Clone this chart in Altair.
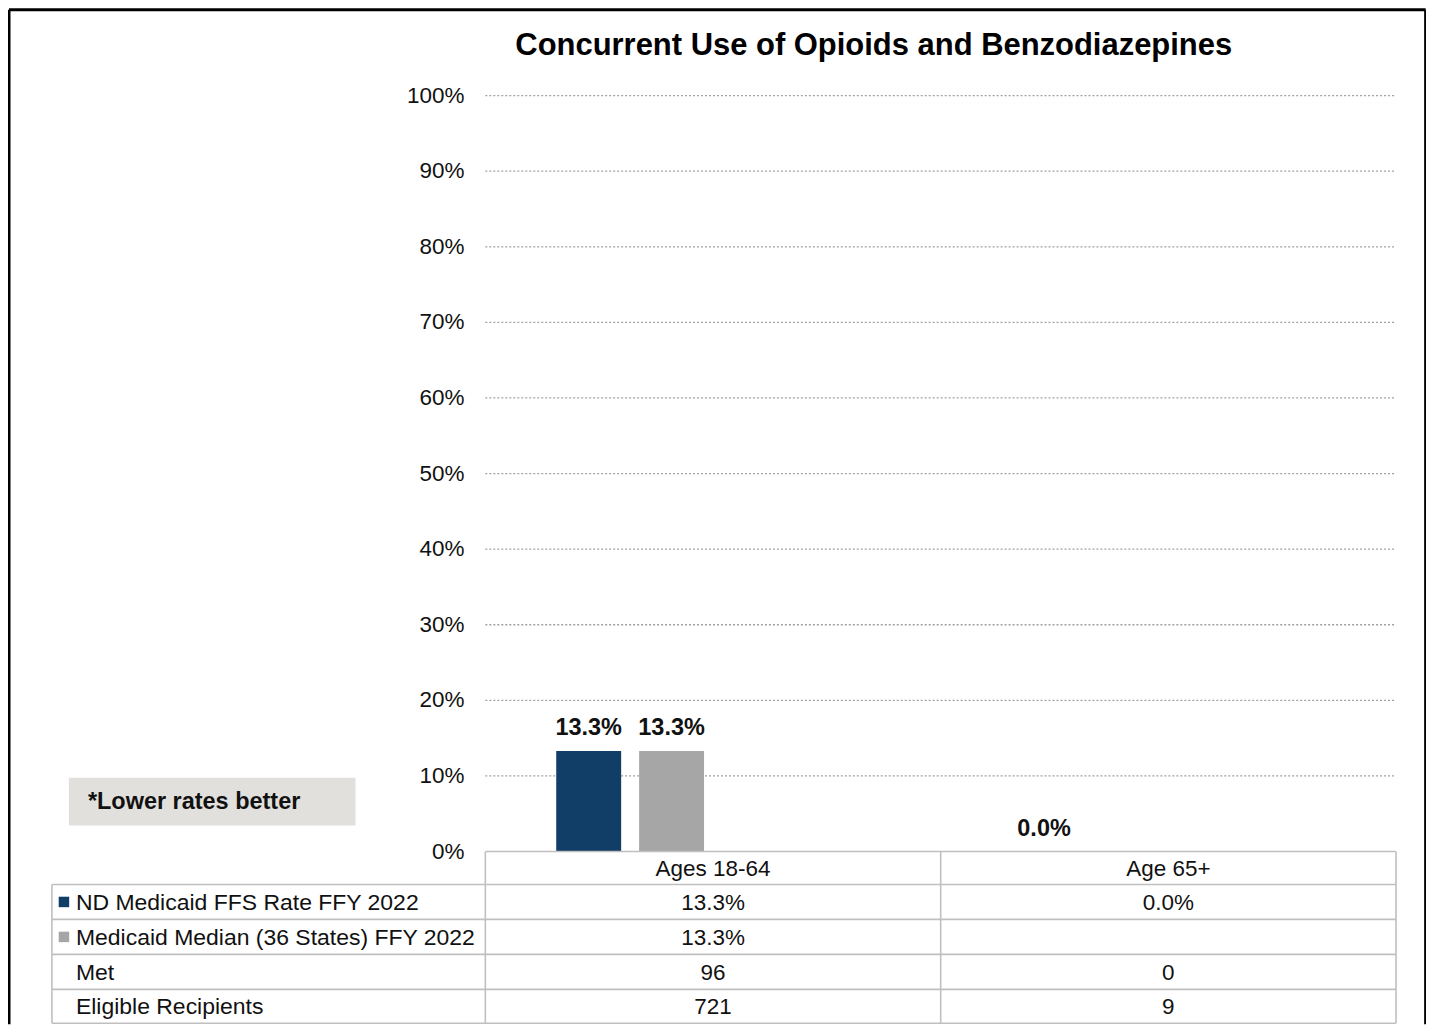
import altair as alt
import pandas as pd

# ---------------- data ----------------
title_text = "Concurrent Use of Opioids and Benzodiazepines"
categories = ["Ages 18-64", "Age 65+"]
series_names = ["ND Medicaid FFS Rate FFY 2022", "Medicaid Median (36 States) FFY 2022"]
series_colors = ["#113E67", "#A6A6A6"]
nd_rate = [13.3, 0.0]
median_rate = [13.3, None]
met_counts = [96, 0]
eligible_counts = [721, 9]
row_labels = ["Met", "Eligible Recipients"]
y_ticks = [0, 10, 20, 30, 40, 50, 60, 70, 80, 90, 100]
y_tick_labels = ["0%", "10%", "20%", "30%", "40%", "50%", "60%", "70%", "80%", "90%", "100%"]
note_text = "*Lower rates better"

# ---------------- layout (data units: x = category column, y = percent) ----------------
FONT = "Liberation Sans, Arial, sans-serif"
W, H = 1420, 1017
X_DOM = [-0.54825, 2.56579]
Y_DOM = [-22.853, 111.493]
xs = alt.Scale(domain=X_DOM, nice=False, zero=False)
ys = alt.Scale(domain=Y_DOM, nice=False, zero=False)

SLOT = 0.182       # width of one series slot in a group
BAR_HALF = 0.0713  # half bar width
TABLE_LEFT = -0.4518
LABEL_X = -0.3991
SQUARE_X = -0.4254
ROW_EDGES = [0.0, -4.36, -8.98, -13.61, -18.23, -22.72]
LINE_COLOR = "#BFBFBF"
TEXT_COLOR = "#111111"

def X(f="x"):
    return alt.X(f"{f}:Q", scale=xs, axis=None)

def Y(f="y"):
    return alt.Y(f"{f}:Q", scale=ys, axis=None)

# ---------------- bars ----------------
bar_rows = []
for ci, cat in enumerate(categories):
    for si, (sname, vals) in enumerate(zip(series_names, [nd_rate, median_rate])):
        v = vals[ci]
        if v is None:
            continue
        center = (ci + 1) + (si - 1.5) * SLOT
        bar_rows.append({"category": cat, "series": sname, "value": v,
                         "xc": center, "x0": center - BAR_HALF, "x1": center + BAR_HALF,
                         "base": 0.0, "label": f"{v:.1f}%"})
bars_df = pd.DataFrame(bar_rows)

color_scale = alt.Scale(domain=series_names, range=series_colors)

bars = alt.Chart(bars_df).mark_rect().encode(
    x=X("x0"), x2="x1", y=Y("base"), y2="value",
    color=alt.Color("series:N", scale=color_scale, legend=None),
)
bar_labels = alt.Chart(bars_df).mark_text(
    font=FONT, fontSize=23.5, fontWeight="bold", baseline="middle", dy=-23, color=TEXT_COLOR
).encode(x=X("xc"), y=Y("value"), text="label:N")

# ---------------- grid + y labels ----------------
grid_df = pd.DataFrame({"y": [t for t in y_ticks if t > 0], "x0": 0.5, "x1": 2.5})
grid = alt.Chart(grid_df).mark_rule(color="#A0A0A0", strokeDash=[2, 2], strokeWidth=1.3).encode(
    x=X("x0"), x2="x1", y=Y("y"))

ticks_df = pd.DataFrame({"y": y_ticks, "label": y_tick_labels, "x": 0.5})
tick_labels = alt.Chart(ticks_df).mark_text(
    font=FONT, fontSize=22.5, align="right", baseline="middle", dx=-21, color=TEXT_COLOR
).encode(x=X("x"), y=Y("y"), text="label:N")

# ---------------- table ----------------
segs = [{"x0": 0.5, "x1": 2.5, "y0": ROW_EDGES[0], "y1": ROW_EDGES[0]}]
for e in ROW_EDGES[1:]:
    segs.append({"x0": TABLE_LEFT, "x1": 2.5, "y0": e, "y1": e})
segs.append({"x0": TABLE_LEFT, "x1": TABLE_LEFT, "y0": ROW_EDGES[1], "y1": ROW_EDGES[-1]})
for xv in [0.5, 1.5, 2.5]:
    segs.append({"x0": xv, "x1": xv, "y0": ROW_EDGES[0], "y1": ROW_EDGES[-1]})
segs_df = pd.DataFrame(segs)
table_lines = alt.Chart(segs_df).mark_rule(color=LINE_COLOR, strokeWidth=1.6).encode(
    x=X("x0"), x2="x1", y=Y("y0"), y2="y1")

row_centers = [(ROW_EDGES[i] + ROW_EDGES[i + 1]) / 2 for i in range(len(ROW_EDGES) - 1)]

def fmt_pct(v):
    return "" if v is None else f"{v:.1f}%"

cells = []
for ci, cat in enumerate(categories):
    cx = ci + 1
    cells.append({"x": cx, "y": row_centers[0], "t": cat})
    cells.append({"x": cx, "y": row_centers[1], "t": fmt_pct(nd_rate[ci])})
    cells.append({"x": cx, "y": row_centers[2], "t": fmt_pct(median_rate[ci])})
    cells.append({"x": cx, "y": row_centers[3], "t": str(met_counts[ci])})
    cells.append({"x": cx, "y": row_centers[4], "t": str(eligible_counts[ci])})
cells_df = pd.DataFrame(cells)
cell_text = alt.Chart(cells_df).mark_text(
    font=FONT, fontSize=22.5, align="center", baseline="middle", dy=1, color=TEXT_COLOR
).encode(x=X("x"), y=Y("y"), text="t:N")

left_labels = series_names + row_labels
left_df = pd.DataFrame({"x": LABEL_X, "y": row_centers[1:], "t": left_labels})
left_text = alt.Chart(left_df).mark_text(
    font=FONT, fontSize=23, align="left", baseline="middle", dy=1, color=TEXT_COLOR
).encode(x=X("x"), y=Y("y"), text="t:N")

sq_df = pd.DataFrame({"x": SQUARE_X, "y": row_centers[1:3], "series": series_names})
squares = alt.Chart(sq_df).mark_square(size=110, opacity=1).encode(
    x=X("x"), y=Y("y"), color=alt.Color("series:N", scale=color_scale, legend=None))

# ---------------- note box ----------------
note_df = pd.DataFrame({"x0": [-0.4145], "x1": [0.2149], "y0": [3.435], "y1": [9.775],
                        "tx": [-0.3728], "ty": [6.6], "t": [note_text]})
note_box = alt.Chart(note_df).mark_rect(color="#E2E0DC").encode(
    x=X("x0"), x2="x1", y=Y("y0"), y2="y1")
note_lbl = alt.Chart(note_df).mark_text(
    font=FONT, fontSize=23.5, fontWeight="bold", align="left", baseline="middle", color=TEXT_COLOR
).encode(x=X("tx"), y=Y("ty"), text="t:N")

# ---------------- title ----------------
title_df = pd.DataFrame({"x": [1.353], "y": [106.6], "t": [title_text]})
title = alt.Chart(title_df).mark_text(
    font=FONT, fontSize=31, fontWeight="bold", align="center", baseline="middle", color="#000000"
).encode(x=X("x"), y=Y("y"), text="t:N")

# ---------------- outer border (left, top, right) ----------------
border_df = pd.DataFrame([
    {"x0": -0.54605, "x1": -0.54605, "y0": 111.36, "y1": Y_DOM[0]},
    {"x0": -0.54605, "x1": 2.5650, "y0": 111.36, "y1": 111.36},
    {"x0": 2.5650, "x1": 2.5650, "y0": 111.36, "y1": Y_DOM[0]},
])
border = alt.Chart(border_df).mark_rule(color="#000000", strokeWidth=3).encode(
    x=X("x0"), x2="x1", y=Y("y0"), y2="y1")

chart = alt.layer(
    note_box, grid, tick_labels, bars, bar_labels, table_lines, cell_text,
    left_text, squares, note_lbl, title, border
).properties(
    width=W, height=H, autosize=alt.AutoSizeParams(type="none"), padding=0,
    background="#FFFFFF"
).configure_view(stroke=None)

chart.save("out.html", embed_options={"renderer": "svg", "actions": False})
